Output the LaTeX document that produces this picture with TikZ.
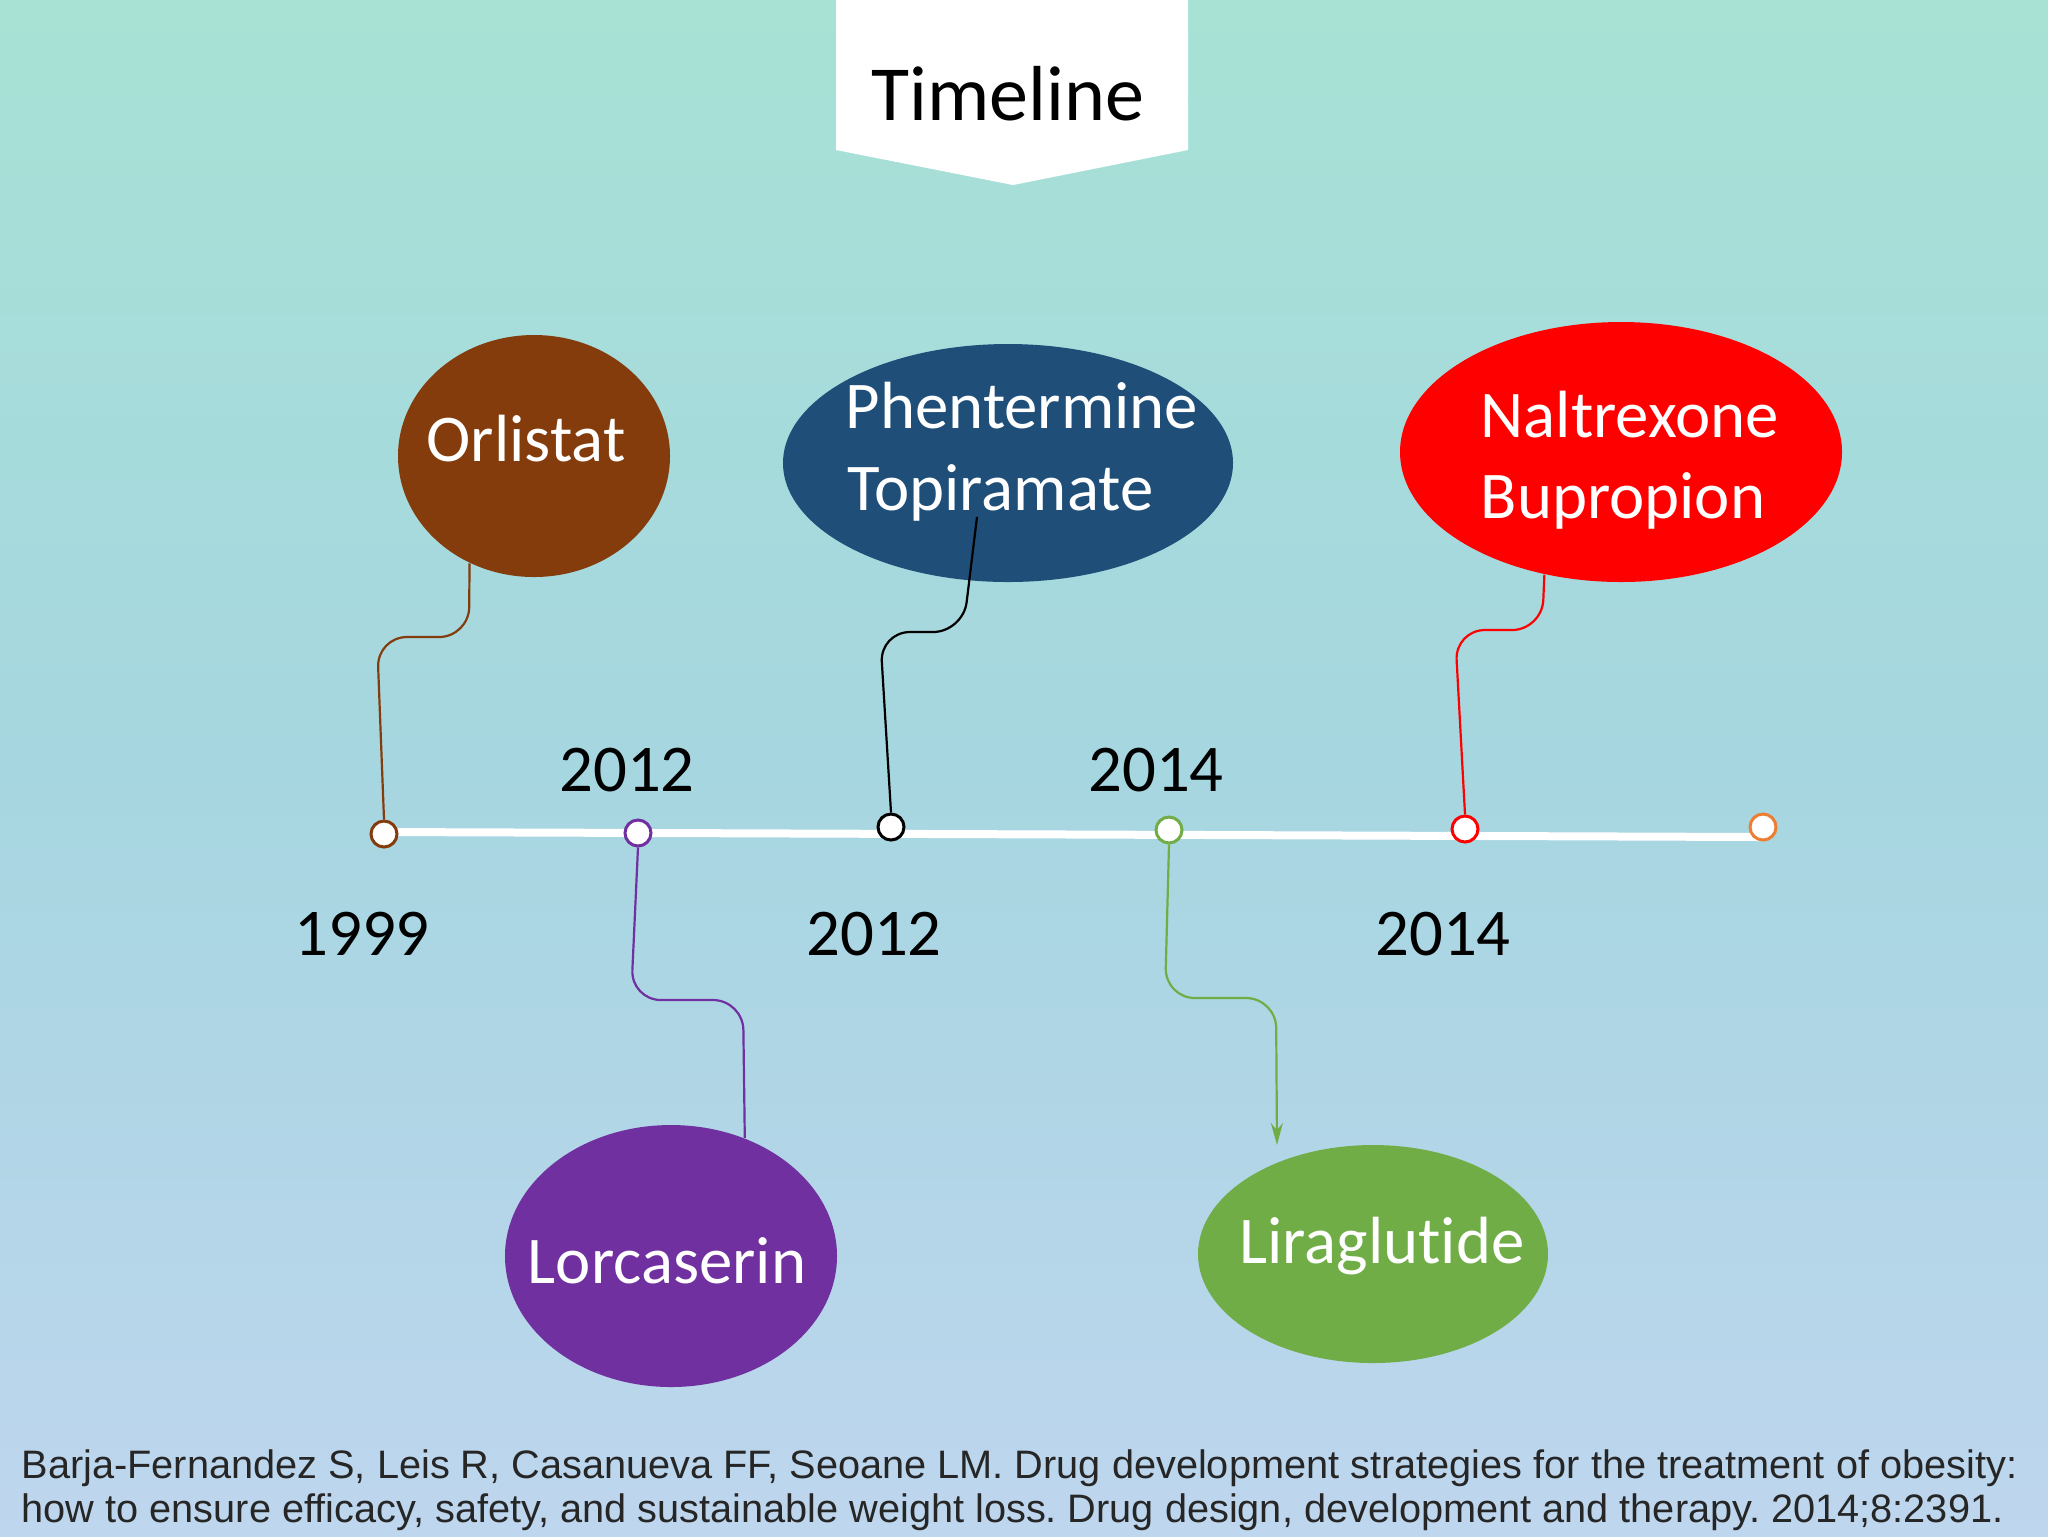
\documentclass[tikz,border=0pt]{standalone}
\usepackage{fontspec}
\setmainfont{Carlito}[RawFeature={-liga;-calt;-clig;-dlig}]
\newfontfamily\citefont{Liberation Sans}[Ligatures={NoCommon}]
\usetikzlibrary{shapes.geometric,arrows.meta}
\definecolor{bgtop}{RGB}{167,226,213}
\definecolor{bgmid}{RGB}{166,214,224}
\definecolor{bgbot}{RGB}{190,214,238}
\definecolor{cbrown}{RGB}{132,60,12}
\definecolor{cblue}{RGB}{31,78,121}
\definecolor{cred}{RGB}{255,0,0}
\definecolor{cpurple}{RGB}{112,48,160}
\definecolor{cgreen}{RGB}{112,173,71}
\definecolor{corange}{RGB}{237,125,49}
\frenchspacing
\begin{document}
\begin{tikzpicture}[x=0.1mm,y=-0.1mm,
  dot/.style={circle,draw=#1,fill=white,line width=0.3mm,minimum size=2.6mm,inner sep=0pt},
  bubble/.style={ellipse,fill=#1,draw=none,inner sep=0pt},
  conn/.style={draw=#1,line width=0.22mm,rounded corners=3mm},
  lbl/.style={font=\fontsize{19}{23}\selectfont,inner sep=0pt,anchor=base},
  wlbl/.style={lbl,text=white},
  citestyle/.style={font=\citefont\fontsize{11.3}{12.5}\selectfont,inner sep=0pt,anchor=base west,text=black!85}
]
\useasboundingbox (0,0) rectangle (2048,1536);
\fill[top color=bgtop,bottom color=bgbot,middle color=bgmid] (0,0) rectangle (2048,1536);

% title banner
\fill[white] (836,0) -- (1188,0) -- (1188,150) -- (1013,185) -- (836,150) -- cycle;
\node[font=\fontsize{22.2}{26}\selectfont,anchor=base,inner sep=0pt] (title) at (1008,120) {Timeline};

% timeline bar
\coordinate (tl1) at (384,832);
\coordinate (tl2) at (1763,837);
\draw[white,line width=0.8mm] (tl1) -- (tl2);

\node[dot=cbrown] (cb) at (384,834) {};
\node[dot=cpurple] (cp) at (638,833) {};
\node[dot=black] (ck) at (891,827) {};
\node[dot=cgreen] (cg) at (1169,830) {};
\node[dot=cred] (cr) at (1465,829) {};
\node[dot=corange] (co) at (1763,827) {};

% bubbles
\node[bubble=cbrown,minimum width=27.2mm,minimum height=24.2mm] (orl) at (534,456) {};
\node[bubble=cblue,minimum width=45mm,minimum height=23.8mm] (phe) at (1008,463) {};
\node[bubble=cred,minimum width=44.2mm,minimum height=26mm] (nal) at (1621,452) {};
\node[bubble=cpurple,minimum width=33.2mm,minimum height=26.2mm] (lor) at (671,1256) {};
\node[bubble=cgreen,minimum width=35mm,minimum height=21.8mm] (lir) at (1373,1254) {};

% bubble texts
\node[wlbl] (torl) at (526,461) {Orlistat};
\node[wlbl,anchor=base west] (tphe1) at (845,428) {Phentermine};
\node[wlbl,anchor=base west] (tphe2) at (847,510) {Topiramate};
\node[wlbl,anchor=base west] (tnal1) at (1480,437) {Naltrexone};
\node[wlbl,anchor=base west] (tnal2) at (1480,518) {Bupropion};
\node[wlbl] (tlor) at (667,1283) {Lorcaserin};
\node[wlbl] (tlir) at (1382,1263) {Liraglutide};

% connectors
\coordinate (kend) at (977,517);
\coordinate (gend) at (1277,1145);
\draw[conn=cbrown] (cb.north) -- (377,637) -- (469,637) -- (orl.239.4);
\draw[conn=cpurple] (cp.south) -- (631,1000) -- (743,1000) -- (lor.58.6);
\draw[conn=black] (ck.north) -- (880,632) -- (963,632) -- (kend);
\draw[conn=cgreen,-{Stealth[length=2.2mm,width=1.2mm]}] (cg.south) -- (1165,998) -- (1276,998) -- (gend);
\draw[conn=cred] (cr.north) -- (1455,630) -- (1542,630) -- (nal.238.6);

% years
\node[lbl] (y1) at (627,791) {2012};
\node[lbl] (y2) at (1156,791) {2014};
\node[lbl] (y3) at (362,955) {1999};
\node[lbl] (y4) at (874,955) {2012};
\node[lbl] (y5) at (1443,955) {2014};

% citation
\node[citestyle] (cite1) at (21,1478) {Barja-Fernandez S, Leis R, Casanueva FF, Seoane LM. Drug development strategies for the treatment of obesity:};
\node[citestyle] (cite2) at (21,1522) {how to ensure efficacy, safety, and sustainable weight loss. Drug design, development and therapy. 2014;8:2391.};
\end{tikzpicture}
\end{document}
